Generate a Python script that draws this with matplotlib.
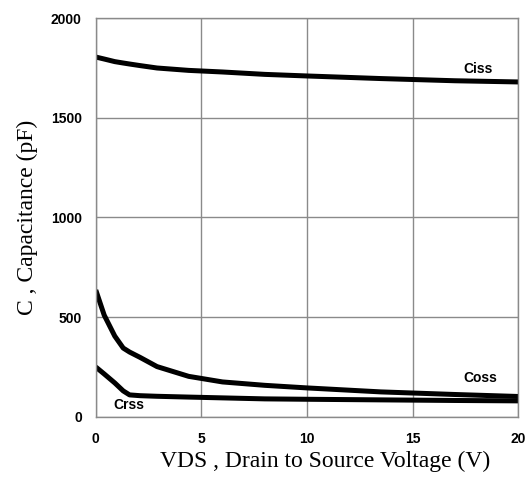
import numpy as np
import matplotlib
matplotlib.use("Agg")
import matplotlib.pyplot as plt

# Valori (pF vs V)
vds = [0, 0.4, 0.9, 1.3, 1.6, 2.1, 2.9, 4.4, 6.0, 8.0, 10, 13.5, 17, 20]
ciss = [1805, 1795, 1782, 1775, 1770, 1762, 1750, 1738, 1730, 1718, 1710, 1697, 1686, 1680]
coss = [636, 510, 405, 345, 325, 298, 252, 203, 175, 158, 145, 125, 112, 102]
crss = [250, 215, 170, 130, 110, 106, 103, 99, 95, 90, 88, 85, 82, 80]

x_ticks = [0, 5, 10, 15, 20]
y_ticks = [0, 500, 1000, 1500, 2000]

fig = plt.figure(figsize=(5.32, 4.78), dpi=100)
ax = fig.add_axes([0.180, 0.128, 0.794, 0.834])

for serie in (ciss, coss, crss):
    ax.plot(vds, serie, color="black", lw=3.6, solid_capstyle="butt")

ax.set_xlim(0, 20)
ax.set_ylim(0, 2000)
ax.set_xticks(x_ticks)
ax.set_yticks(y_ticks)
ax.grid(True, color="#8a8a8a", lw=1.0)
for s in ax.spines.values():
    s.set_color("#8a8a8a")
    s.set_linewidth(1.0)
ax.tick_params(axis="x", length=0, pad=11)
ax.tick_params(axis="y", length=0, pad=10)
for lbl in ax.get_xticklabels() + ax.get_yticklabels():
    lbl.set_fontfamily("Liberation Sans")
    lbl.set_fontweight("bold")
    lbl.set_fontsize(10)

ax.set_xlabel("VDS , Drain to Source Voltage (V)", family="Liberation Serif", fontsize=17, labelpad=6)
ax.xaxis.set_label_coords(0.543, -0.085)
ax.set_ylabel("C , Capacitance (pF)", family="Liberation Serif", fontsize=17, labelpad=9)

lab = dict(family="Liberation Sans", fontweight="bold", fontsize=10, ha="center", va="center")
ax.text(18.1, 1745, "Ciss", **lab)
ax.text(18.2, 195, "Coss", **lab)
ax.text(1.55, 58, "Crss", **lab)

fig.savefig("out.png", dpi=100)
